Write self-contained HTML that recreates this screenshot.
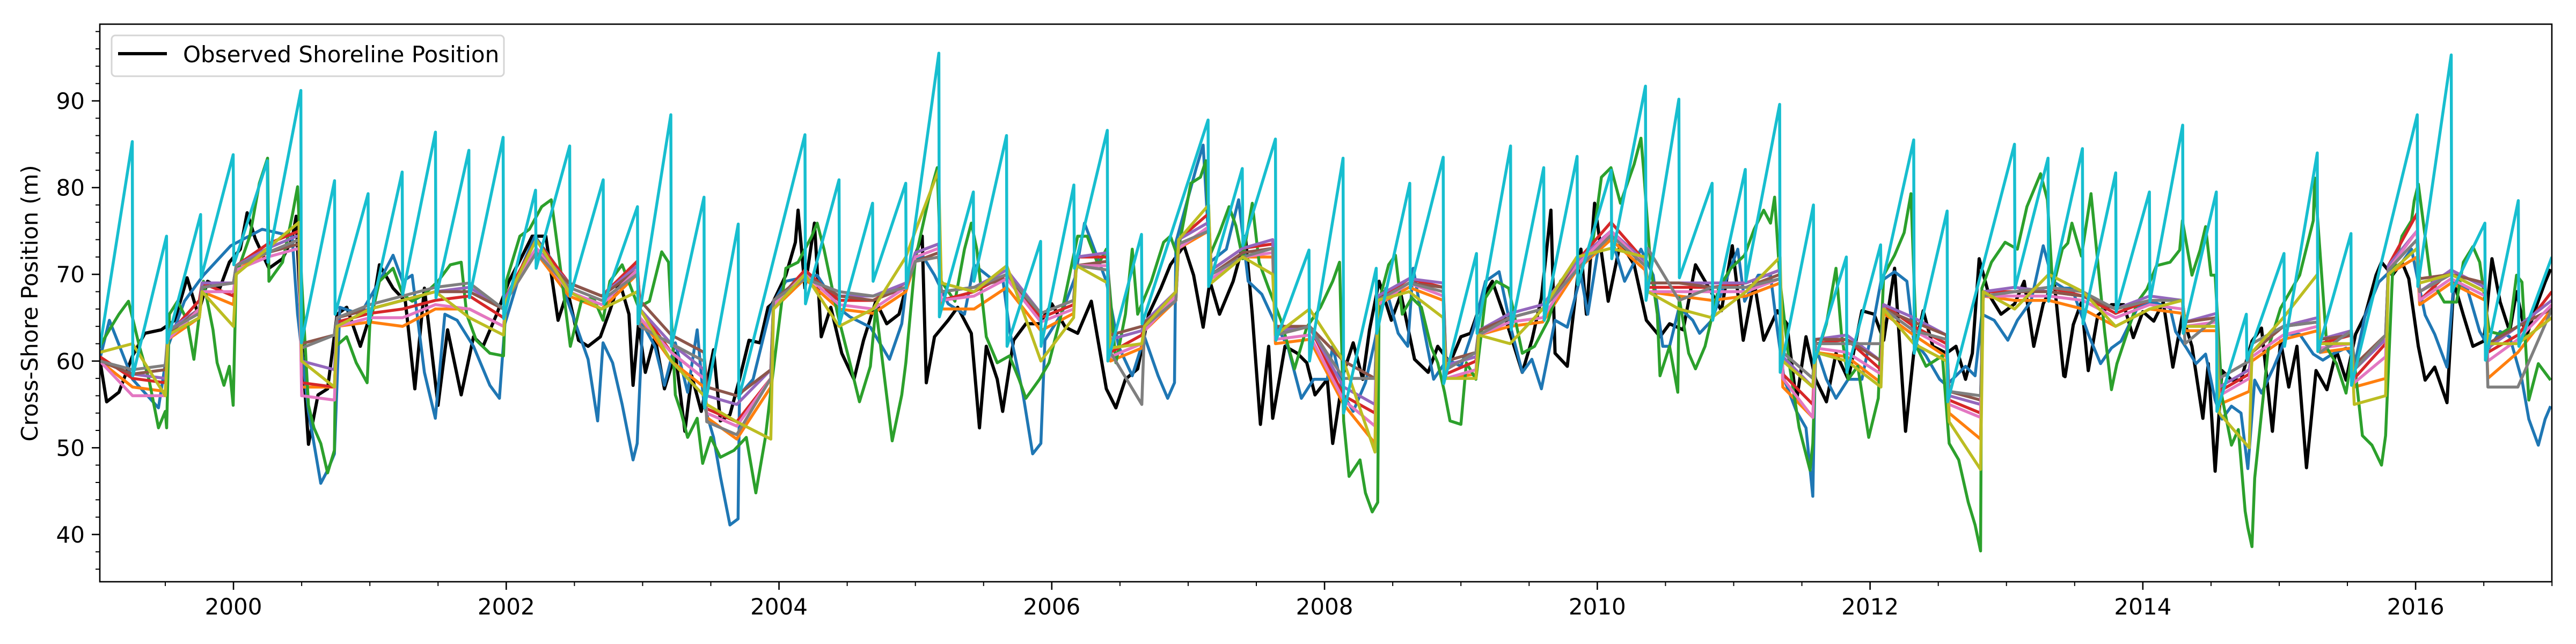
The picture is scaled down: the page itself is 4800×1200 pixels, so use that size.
<!DOCTYPE html>
<html><head><meta charset="utf-8"><title>Shoreline Position</title>
<style>
html,body{margin:0;padding:0;background:#fff;}
svg{display:block;font-family:"DejaVu Sans","Liberation Sans",sans-serif;}
</style></head>
<body>
<svg id="chart" width="4800" height="1200" viewBox="0 0 4800 1200" xmlns="http://www.w3.org/2000/svg">
<rect x="0" y="0" width="4800" height="1200" fill="#fff"/>
<defs><clipPath id="plotclip"><rect x="186" y="45" width="4569" height="1039"/></clipPath></defs>
<g id="series" clip-path="url(#plotclip)"></g>
<g id="axes"></g>
<text x="0" y="0" transform="translate(70,565) rotate(-90)" text-anchor="middle" font-size="42" fill="#000">Cross-Shore Position (m)</text>
<g>
<rect x="208" y="66" width="731" height="76" rx="7" fill="#fff" fill-opacity="0.8" stroke="#d5d5d5" stroke-width="3"/>
<line x1="220" y1="100" x2="311" y2="100" stroke="#000" stroke-width="6"/>
<text x="341" y="116" font-size="42" fill="#000">Observed Shoreline Position</text>
</g>
</svg>
<script>
// ---- axis domains ----
const xDomain = [1999.02, 2016.999];
const yDomain = [34.55, 98.85];
const yMajorTicks = [40, 50, 60, 70, 80, 90];
const xMajorTicks = [2000, 2002, 2004, 2006, 2008, 2010, 2012, 2014, 2016];
const xTickLabels = ["2000","2002","2004","2006","2008","2010","2012","2014","2016"];

// ---- observed (black) ----
const obsT = [1999.02,1999.07,1999.16,1999.26,1999.35,1999.47,1999.57,1999.66,1999.74,1999.81,1999.90,1999.97,2000.05,2000.10,2000.16,2000.26,2000.36,2000.43,2000.46,2000.50,2000.55,2000.62,2000.69,2000.76,2000.83,2000.93,2001.02,2001.07,2001.17,2001.26,2001.33,2001.40,2001.50,2001.57,2001.67,2001.76,2001.83,2001.93,2002.02,2002.12,2002.19,2002.29,2002.38,2002.45,2002.53,2002.60,2002.69,2002.76,2002.83,2002.90,2002.93,2002.97,2003.02,2003.09,2003.16,2003.24,2003.31,2003.36,2003.43,2003.52,2003.57,2003.64,2003.71,2003.78,2003.86,2003.92,2003.95,2004.05,2004.12,2004.14,2004.19,2004.26,2004.31,2004.38,2004.46,2004.55,2004.62,2004.71,2004.79,2004.88,2004.98,2005.05,2005.08,2005.14,2005.24,2005.31,2005.41,2005.47,2005.52,2005.60,2005.64,2005.72,2005.81,2005.91,2006.00,2006.10,2006.19,2006.29,2006.40,2006.47,2006.54,2006.63,2006.71,2006.80,2006.87,2006.97,2007.04,2007.11,2007.16,2007.23,2007.33,2007.42,2007.47,2007.53,2007.59,2007.62,2007.71,2007.80,2007.87,2007.93,2008.02,2008.06,2008.14,2008.21,2008.28,2008.33,2008.40,2008.49,2008.56,2008.66,2008.76,2008.83,2008.92,2009.00,2009.07,2009.16,2009.23,2009.33,2009.45,2009.52,2009.59,2009.66,2009.69,2009.78,2009.88,2009.92,2009.98,2010.08,2010.17,2010.27,2010.36,2010.46,2010.53,2010.63,2010.72,2010.82,2010.91,2010.99,2011.07,2011.15,2011.22,2011.32,2011.39,2011.46,2011.53,2011.60,2011.68,2011.75,2011.84,2011.94,2012.03,2012.10,2012.18,2012.26,2012.32,2012.39,2012.46,2012.56,2012.63,2012.70,2012.75,2012.80,2012.87,2012.96,2013.06,2013.13,2013.20,2013.27,2013.35,2013.42,2013.43,2013.49,2013.55,2013.60,2013.67,2013.77,2013.86,2013.93,2014.00,2014.08,2014.15,2014.22,2014.29,2014.36,2014.44,2014.48,2014.53,2014.58,2014.65,2014.72,2014.80,2014.87,2014.95,2015.01,2015.07,2015.13,2015.20,2015.27,2015.35,2015.42,2015.49,2015.56,2015.63,2015.71,2015.75,2015.83,2015.90,2015.95,2016.02,2016.07,2016.14,2016.23,2016.28,2016.35,2016.42,2016.50,2016.56,2016.62,2016.69,2016.74,2016.81,2016.88,2016.95,2016.99];
const obsV = [60.2,55.3,56.4,60.6,63.2,63.6,64.7,69.6,65.4,69.2,68.4,71.4,72.9,77.1,74.1,70.7,71.8,74.1,76.7,62.4,50.4,56.1,56.8,65.4,66.2,61.7,66.2,71.1,68.4,66.9,56.8,68.4,54.9,63.6,56.1,62.8,61.7,65.4,69.2,72.2,74.4,74.4,64.7,68.1,62.4,61.7,62.8,65.8,69.2,65.4,57.2,64.3,58.7,62.8,56.8,60.9,51.9,58.3,54.2,61.3,53.1,53.8,57.9,62.4,62.1,66.2,66.6,69.9,73.7,77.4,68.4,75.9,62.8,66.2,60.9,57.9,62.4,66.9,64.3,65.4,71.4,74.4,57.5,62.8,64.7,66.2,63.2,52.3,61.7,57.9,54.2,62.4,64.3,64.3,66.6,63.9,63.2,66.9,56.8,54.6,57.9,59.1,65.4,68.4,71.1,73.3,69.9,63.9,69.2,65.4,69.2,74.4,65.4,52.7,61.7,53.4,61.7,60.9,59.8,56.1,57.9,50.5,58.7,62.1,57.9,63.6,69.2,64.7,67.7,60.2,58.7,61.7,59.8,62.8,63.2,67.3,69.2,64.7,58.7,62.4,67.3,77.4,60.9,59.4,72.9,65.4,78.2,66.9,73.7,71.1,64.7,62.8,64.3,63.6,71.1,68.4,65.8,73.3,62.4,69.2,62.4,65.8,64.3,55.3,62.8,57.9,55.3,60.9,57.9,65.8,65.4,62.4,70.7,51.9,60.9,65.8,61.7,60.9,61.7,57.9,60.9,71.8,67.7,65.4,66.6,69.2,61.7,66.6,69.2,58.3,58.2,64.2,66.8,58.9,65.3,66.5,66.5,62.7,65.7,64.6,66.8,59.3,65.3,61.7,53.4,59.7,47.3,58.9,57.8,57.8,62.3,63.8,51.9,62.3,57.0,61.7,47.7,58.9,56.7,61.2,57.8,63.1,65.3,69.9,71.4,69.9,71.4,69.5,61.7,57.8,59.3,55.2,69.1,65.3,61.7,62.3,71.8,66.8,63.4,68.0,62.7,66.1,69.1,70.6];

// ---- blue ----
const blueT = [1999.02,1999.09,1999.26,1999.45,1999.52,1999.64,1999.78,1999.98,2000.21,2000.43,2000.47,2000.55,2000.64,2000.69,2000.74,2000.78,2000.93,2001.07,2001.17,2001.24,2001.31,2001.40,2001.48,2001.55,2001.64,2001.76,2001.88,2001.95,2001.99,2002.12,2002.21,2002.36,2002.45,2002.60,2002.67,2002.71,2002.78,2002.85,2002.93,2002.96,2003.00,2003.09,2003.16,2003.24,2003.33,2003.40,2003.45,2003.52,2003.57,2003.64,2003.70,2003.71,2003.81,2003.94,2004.05,2004.17,2004.28,2004.43,2004.52,2004.67,2004.81,2004.90,2004.95,2005.05,2005.14,2005.24,2005.36,2005.43,2005.55,2005.64,2005.69,2005.79,2005.86,2005.92,2005.95,2006.07,2006.17,2006.24,2006.40,2006.49,2006.59,2006.68,2006.78,2006.85,2006.90,2006.91,2007.06,2007.11,2007.16,2007.28,2007.37,2007.44,2007.54,2007.64,2007.73,2007.83,2007.92,2008.02,2008.06,2008.14,2008.21,2008.30,2008.37,2008.45,2008.54,2008.61,2008.65,2008.73,2008.80,2008.90,2009.00,2009.09,2009.18,2009.28,2009.37,2009.45,2009.52,2009.59,2009.69,2009.78,2009.88,2009.93,2010.01,2010.10,2010.20,2010.32,2010.41,2010.48,2010.53,2010.60,2010.70,2010.75,2010.84,2010.94,2011.03,2011.08,2011.18,2011.27,2011.32,2011.37,2011.46,2011.53,2011.58,2011.60,2011.68,2011.75,2011.84,2011.94,2012.01,2012.08,2012.18,2012.27,2012.32,2012.41,2012.51,2012.56,2012.63,2012.70,2012.77,2012.82,2012.91,2013.01,2013.08,2013.18,2013.27,2013.34,2013.42,2013.48,2013.55,2013.60,2013.69,2013.77,2013.84,2013.96,2014.08,2014.20,2014.24,2014.32,2014.39,2014.46,2014.53,2014.58,2014.65,2014.72,2014.77,2014.82,2014.87,2014.96,2015.06,2015.15,2015.25,2015.32,2015.39,2015.49,2015.56,2015.63,2015.73,2015.83,2015.90,2015.97,2016.03,2016.07,2016.14,2016.23,2016.28,2016.38,2016.47,2016.54,2016.62,2016.69,2016.78,2016.83,2016.90,2016.95,2016.99];
const blueV = [60.2,64.7,57.9,54.6,61.7,66.9,69.9,73.3,75.2,74.4,65.4,54.2,45.9,47.4,49.3,66.2,65.4,69.2,72.2,69.2,69.9,58.7,53.4,65.4,64.7,61.7,57.2,55.7,64.3,71.1,74.4,71.1,66.9,60.2,53.1,62.1,59.8,55.0,48.6,50.5,64.3,61.7,57.2,62.1,56.4,63.6,55.0,51.2,46.7,41.1,41.8,56.1,57.9,66.2,69.2,69.6,69.9,66.2,65.1,63.9,60.2,64.3,70.7,72.2,69.9,66.6,65.4,71.1,69.6,69.6,63.6,56.1,49.3,50.5,62.4,65.4,69.6,75.9,69.2,61.7,58.3,62.8,58.3,55.7,57.5,73.7,82.3,84.9,71.4,72.9,78.6,69.2,67.7,64.3,61.7,55.7,57.9,57.9,61.7,56.1,54.2,57.5,62.4,68.4,63.2,61.7,70.7,63.6,57.9,60.2,59.4,63.6,69.2,70.3,63.6,58.7,60.2,56.8,64.7,63.9,69.9,65.4,73.3,74.4,69.2,72.9,69.9,61.7,61.7,66.2,64.7,63.2,64.7,69.2,72.9,66.9,69.9,69.9,63.6,57.9,54.2,52.3,44.4,61.7,57.9,55.7,57.9,57.9,63.2,69.2,70.3,69.2,62.4,60.6,57.9,57.2,58.3,59.4,58.3,65.4,64.7,62.4,64.7,66.9,73.3,69.2,68.4,68.4,65.3,63.1,59.7,61.5,62.3,66.1,66.8,66.1,63.4,61.5,59.7,60.8,55.5,53.3,54.8,54.0,47.6,57.8,56.3,59.3,63.1,63.1,60.8,60.1,60.8,61.5,60.1,65.3,69.1,70.6,71.4,72.9,68.3,65.3,63.1,59.3,69.1,68.3,63.4,61.5,63.4,62.8,57.8,53.3,50.3,53.3,54.8];

// ---- green ----
const greenT = [1999.02,1999.09,1999.16,1999.23,1999.31,1999.38,1999.45,1999.50,1999.51,1999.53,1999.59,1999.66,1999.71,1999.78,1999.85,1999.88,1999.93,1999.97,1999.998,2000.02,2000.12,2000.19,2000.25,2000.26,2000.36,2000.43,2000.47,2000.50,2000.55,2000.59,2000.64,2000.69,2000.74,2000.75,2000.83,2000.90,2000.98,2001.00,2001.07,2001.17,2001.24,2001.31,2001.40,2001.50,2001.59,2001.67,2001.71,2001.78,2001.88,2001.98,2002.00,2002.10,2002.17,2002.26,2002.33,2002.41,2002.47,2002.55,2002.64,2002.71,2002.76,2002.85,2002.97,2003.05,2003.14,2003.19,2003.24,2003.28,2003.33,2003.40,2003.44,2003.50,2003.57,2003.67,2003.76,2003.83,2003.90,2003.95,2004.05,2004.14,2004.24,2004.28,2004.33,2004.43,2004.52,2004.59,2004.67,2004.71,2004.76,2004.83,2004.90,2004.93,2005.00,2005.10,2005.16,2005.19,2005.29,2005.36,2005.41,2005.45,2005.52,2005.60,2005.69,2005.76,2005.81,2005.91,2005.98,2006.07,2006.19,2006.26,2006.34,2006.40,2006.47,2006.54,2006.59,2006.63,2006.73,2006.82,2006.87,2006.92,2007.02,2007.09,2007.13,2007.16,2007.23,2007.30,2007.35,2007.40,2007.47,2007.52,2007.59,2007.68,2007.78,2007.87,2007.97,2008.06,2008.11,2008.14,2008.18,2008.26,2008.30,2008.35,2008.39,2008.40,2008.47,2008.52,2008.57,2008.64,2008.71,2008.78,2008.83,2008.88,2008.92,2009.00,2009.04,2009.11,2009.18,2009.26,2009.35,2009.45,2009.54,2009.64,2009.73,2009.83,2009.96,2010.03,2010.10,2010.17,2010.27,2010.32,2010.34,2010.39,2010.44,2010.46,2010.53,2010.59,2010.60,2010.67,2010.72,2010.79,2010.89,2010.98,2011.08,2011.15,2011.22,2011.27,2011.30,2011.34,2011.41,2011.48,2011.56,2011.58,2011.60,2011.68,2011.75,2011.79,2011.84,2011.91,2011.99,2012.06,2012.10,2012.18,2012.25,2012.30,2012.34,2012.41,2012.53,2012.58,2012.65,2012.72,2012.77,2012.81,2012.82,2012.89,2012.99,2013.08,2013.15,2013.25,2013.30,2013.34,2013.41,2013.45,2013.48,2013.55,2013.62,2013.72,2013.77,2013.81,2013.96,2014.03,2014.10,2014.20,2014.27,2014.29,2014.36,2014.42,2014.46,2014.50,2014.53,2014.58,2014.65,2014.70,2014.75,2014.77,2014.80,2014.82,2014.92,2015.01,2015.15,2015.25,2015.26,2015.35,2015.42,2015.49,2015.54,2015.61,2015.68,2015.75,2015.78,2015.83,2015.90,2015.97,2015.99,2016.02,2016.11,2016.21,2016.30,2016.35,2016.42,2016.47,2016.54,2016.62,2016.69,2016.74,2016.78,2016.83,2016.90,2016.99];
const greenV = [61.7,63.6,65.4,66.9,61.7,57.9,52.3,54.2,52.3,65.4,66.9,64.7,60.2,69.2,63.6,59.8,57.2,59.4,54.9,69.9,74.4,80.5,83.4,69.2,71.4,76.7,80.1,69.2,54.9,52.3,50.5,47.1,49.7,61.7,62.8,59.8,57.5,64.3,69.2,70.7,67.7,66.9,67.7,69.2,71.1,71.4,65.4,62.4,60.9,60.6,69.2,74.4,75.2,77.8,78.6,69.2,61.7,66.9,67.3,64.7,69.2,71.1,66.2,66.9,72.6,71.4,56.1,54.2,51.2,53.4,48.2,51.2,48.9,49.7,51.2,44.8,51.2,57.9,70.7,71.4,74.4,75.9,72.9,65.4,59.8,55.3,59.4,66.2,59.8,50.8,56.1,59.8,71.8,78.9,82.3,69.2,66.9,72.9,75.9,72.9,62.8,59.8,60.6,57.9,55.7,57.9,59.8,65.4,74.4,74.4,71.1,72.9,59.8,65.4,72.9,65.4,69.2,73.7,74.4,72.2,80.5,81.2,83.1,72.2,74.8,77.8,75.6,71.8,78.2,71.4,68.4,64.7,59.1,63.9,66.2,69.2,71.4,53.1,46.7,48.6,44.8,42.6,43.7,66.9,71.1,72.2,65.4,67.3,66.2,61.7,59.8,56.4,53.1,52.7,59.8,57.9,67.3,69.2,68.4,60.9,61.7,64.7,69.2,71.1,72.9,81.2,82.3,78.2,82.7,85.7,82.0,71.1,65.4,58.3,61.7,56.4,67.3,60.9,59.1,61.7,68.4,70.7,72.2,75.2,77.4,75.9,78.9,69.2,59.4,52.3,47.4,50.5,60.2,64.3,70.7,63.2,57.9,59.4,51.2,55.7,69.9,72.2,74.8,79.3,61.7,59.4,60.6,50.5,48.6,43.7,41.1,38.1,68.4,71.4,73.7,72.9,77.8,81.6,78.6,68.4,72.9,73.6,75.9,72.1,79.3,63.4,56.7,59.7,66.8,68.3,71.0,71.4,72.8,76.2,69.9,72.8,75.5,69.9,69.9,55.9,50.3,52.1,42.7,40.8,38.6,46.5,61.5,66.1,69.9,76.2,81.1,61.5,59.7,56.3,61.5,51.4,50.3,48.0,51.4,69.9,74.4,76.2,78.5,80.4,69.5,66.8,66.8,71.4,73.2,71.4,63.4,63.1,63.8,69.9,69.1,55.5,59.7,57.8,61.5];

// ---- cyan sawtooth ----
const cyanT = [1999.02,1999.258,1999.262,1999.509,1999.513,1999.759,1999.763,1999.998,2000.002,2000.248,2000.252,2000.494,2000.498,2000.741,2000.745,2000.987,2000.991,2001.237,2001.241,2001.481,2001.485,2001.726,2001.730,2001.977,2001.981,2002.215,2002.219,2002.465,2002.469,2002.711,2002.715,2002.962,2002.966,2003.207,2003.211,2003.450,2003.454,2003.701,2003.705,2004.190,2004.194,2004.440,2004.444,2004.686,2004.690,2004.929,2004.933,2005.172,2005.176,2005.425,2005.429,2005.668,2005.672,2005.918,2005.922,2006.162,2006.166,2006.407,2006.411,2006.658,2006.662,2007.146,2007.150,2007.397,2007.401,2007.640,2007.644,2007.886,2007.890,2008.136,2008.140,2008.379,2008.383,2008.625,2008.629,2008.870,2008.874,2009.114,2009.118,2009.364,2009.368,2009.607,2009.611,2009.852,2009.856,2010.102,2010.106,2010.353,2010.357,2010.598,2010.602,2010.842,2010.846,2011.085,2011.089,2011.337,2011.341,2011.585,2011.589,2011.826,2011.830,2012.077,2012.081,2012.320,2012.324,2012.565,2012.569,2013.059,2013.063,2013.305,2013.309,2013.557,2013.561,2013.801,2013.805,2014.048,2014.052,2014.292,2014.296,2014.539,2014.543,2014.759,2014.763,2015.035,2015.039,2015.279,2015.283,2015.526,2015.530,2016.012,2016.016,2016.261,2016.265,2016.508,2016.512,2016.753,2016.757,2016.999];
const cyanV = [61.5,85.3,58.3,74.4,62.1,76.9,69.6,83.8,71.1,83.1,71.4,91.2,62.1,80.8,65.4,79.3,64.3,81.8,67.7,86.4,67.3,84.3,67.3,85.8,64.9,79.7,70.7,84.8,67.5,80.9,66.6,77.8,64.3,88.4,61.7,78.9,54.6,75.8,55.7,86.1,66.6,80.9,64.3,78.2,69.2,80.5,68.4,95.5,65.1,79.5,69.2,86.0,61.7,73.8,61.7,80.3,70.7,86.6,60.0,74.6,64.3,87.8,68.6,82.2,73.3,85.6,62.4,72.8,60.0,83.4,54.0,70.7,63.2,80.5,68.4,83.5,57.4,72.4,63.2,84.8,63.6,82.3,64.7,83.6,68.8,82.0,71.8,91.7,67.0,90.2,69.6,80.5,64.7,82.1,69.2,89.6,58.7,78.0,59.8,72.0,58.7,73.4,68.4,85.5,60.9,77.3,55.3,85.0,68.4,83.4,66.9,84.5,64.3,81.7,65.7,79.5,66.9,87.2,63.2,79.5,54.2,65.4,60.1,72.4,61.7,84.0,61.1,74.7,57.2,88.4,68.6,95.3,68.0,75.9,60.1,78.5,61.7,72.0];

// ---- ensemble cluster (shared time categories) ----
const clusterT = [1999.02,1999.26,1999.50,1999.52,1999.75,1999.77,2000.00,2000.02,2000.25,2000.48,2000.50,2000.74,2000.76,2001.00,2001.24,2001.48,2001.73,2001.98,2002.00,2002.22,2002.46,2002.70,2002.96,2002.98,2003.21,2003.45,2003.47,2003.69,2003.94,2003.96,2004.19,2004.44,2004.69,2004.93,2005.00,2005.17,2005.19,2005.43,2005.67,2005.92,2006.16,2006.18,2006.41,2006.43,2006.66,2006.68,2006.91,2006.93,2007.15,2007.17,2007.40,2007.62,2007.64,2007.89,2008.14,2008.37,2008.39,2008.62,2008.87,2008.89,2009.11,2009.13,2009.36,2009.60,2009.85,2010.10,2010.35,2010.37,2010.60,2010.84,2011.09,2011.34,2011.36,2011.58,2011.60,2011.83,2012.08,2012.10,2012.32,2012.56,2012.58,2012.81,2012.83,2013.06,2013.31,2013.56,2013.80,2014.05,2014.29,2014.31,2014.54,2014.56,2014.78,2014.80,2015.03,2015.28,2015.30,2015.53,2015.55,2015.78,2015.80,2016.01,2016.03,2016.26,2016.51,2016.53,2016.75,2016.999];
const orangeV = [60,57,56.5,62.5,65,68,66.5,70.5,72.5,74,57,57,64,64.5,64,66,66,64,67,72.5,67.5,66,70,65,60,57,53.5,51,57,66,69.5,66,65.5,68,71.5,72,66,66,68.5,63.5,65.5,71,70.5,60,61.5,63.5,67,73,75,69.5,72,72,62,62.5,55,50.5,66.5,68.5,67,58,58.5,63,64,64.5,70.5,74,70.5,68,67.5,67,67.5,69,57,53.5,61,60.5,57.5,65.5,63,60.5,54,51,67.5,67,67,66,64,66,65.5,63.5,63.5,55,56.5,60,62.5,63.5,61,61.5,57,58,70,72,66.5,69,67,58,61,66];
const redV = [60.5,58,57.5,63,67,69,67.5,71,73.5,75,57.5,57,64.5,65.5,66,67,67.5,65,67.5,74,69,67.5,71.5,66,61,58,54.5,53,58,66.5,70.5,67,67,69,72.5,73.5,67,68,70,65,66.5,72,72,61,63,64,68,74,77,70.5,73,73.5,63,64,56,54,67,69.5,68.5,58.5,60,63.5,65,66,71.5,76,71.5,68.5,68.5,68.5,69,70.5,58.5,55,62,62.5,59,66.5,64,62,55.5,54,68,68,68.5,67.5,65.5,67,67,64.5,65,56.5,58.5,61,64,65,62,63,58,62,71,77,67,70.5,68.5,61,63,68];
const purpleV = [60,58.5,58,63.5,66,69,69,71,73,74.5,60,59,65,66,67,68,68.5,66,67.5,73,69,67.5,71,66,62,59,56,55,59,67,70,67.5,67.5,69,72.5,73.5,68,68.5,70.5,65.5,67,72,72.5,62.5,63.5,64.5,68,74,76,70.5,73,74,63.5,64,57,55,67.5,69.5,69,59.5,60.5,63.5,65.5,66.5,71.5,75,71.5,69,69,69,69,70.5,60.5,57,62.5,63,60,66.5,65,63,56,55,68,68.5,68,67.5,66,67.5,67,64.5,65.5,57,59,61,64,65,62.5,63.5,59,62.5,71,75,68,70.5,68.5,61.5,64,67];
const brownV = [60,58.5,59,63,66,68.5,69,71,72.5,73.5,62,63,65,66,67,68,68,66,67,72.5,69,67.5,70.5,67,63,61,57,56,59,67,70,67.5,67,68.5,71.5,72.5,68,68.5,69.5,65.5,67,71,71.5,63,64,64.5,67,73.5,75,70,72.5,73,64,64,60,58,67,69,68.5,60,61,63.5,65,66,71,74.5,71,69,69,68.5,68.5,70,61,58,62.5,62.5,60,66,64.5,63,56.5,55.5,67.5,68,68,67.5,66,67,67,64.5,65,58,60,61,64,64.5,62.5,63,59.5,63,70.5,74,69.5,70,69,62,64,66];
const pinkV = [60,56,56,62.5,66,68,68,70.5,72,73,56,55.5,64,65,65,66.5,66,64,67,73,68,66.5,70.5,65,61,58,54,52.5,58,66.5,70,66.5,66,68.5,72,73,67,67.5,69.5,64.5,66,71,71,60.5,62,63.5,67.5,73,75.5,69.5,72,72.5,62.5,63,55.5,52.5,66.5,69,67.5,58,59,63,64.5,65,71,75,71,68,68,68,68,69.5,58,53.5,61.5,61,58.5,66,63.5,61.5,55,53.5,67.5,67.5,67.5,67,65,66.5,66,64,64.5,56,58,60.5,63,64,61.5,62,57.5,60.5,70.5,75,67,69.5,67.5,60,62.5,66.5];
const grayV = [60,59,59.5,63.5,65.5,68.5,69,71,72.5,74,61.5,63,65,66.5,67.5,68.5,69,66,67,72.5,68.5,67,70,64,62,60,53,51.5,58,67,69.5,68,67.5,68.5,71.5,72,68,68.5,70,65.5,67,71,70.5,61,55,64,67,73.5,75,70,72,73,63,64,58,58,67,69,68,59,61,63,65,66,70.5,74.5,71,73,67,68.5,68.5,69.5,61,58,62,62,62,66,63.5,62.5,56.5,56,67.5,68,68.5,68,66,67,67,62,65,58,60,62,64,64.5,61,63.5,59,63,70.5,74,68,70,68,57,57,66];
const oliveV = [61,62,56,63,65,68,64,70,73,76,60,57,64,66,67,68,65,63,67,74,68,66,68,66,60,56,55,53,51,66,70,64,66,72,75,82,69,68,71,60,65,71,69,61.5,62,64,68,74,78,69,72,70,63,66,60,49.5,67,68,65,58,58,63,62,66,72,73,72,68,66,65,68,72,60,57,61,60,57,66,62,60,53,47.5,68,66,70,68,64,66,67,64,64,54,50,61,65,70,62,62,55,56,70,73,69,70,68,62,62,65];

// ---- scales ----
const plot = {left:186, right:4755, top:45, bottom:1084};
function xScale(t){ return plot.left + (t - xDomain[0]) / (xDomain[1] - xDomain[0]) * (plot.right - plot.left); }
function yScale(v){ return plot.bottom - (v - yDomain[0]) / (yDomain[1] - yDomain[0]) * (plot.bottom - plot.top); }

const NS = "http://www.w3.org/2000/svg";
const seriesLayer = document.getElementById('series');
const axesLayer = document.getElementById('axes');

function drawLine(ts, vs, color, width, name){
  let d = "";
  for (let i = 0; i < ts.length; i++){
    d += (i ? "L" : "M") + xScale(ts[i]).toFixed(1) + " " + yScale(vs[i]).toFixed(1);
  }
  const p = document.createElementNS(NS, 'path');
  p.setAttribute('d', d);
  p.setAttribute('fill', 'none');
  p.setAttribute('stroke', color);
  p.setAttribute('stroke-width', width);
  p.setAttribute('stroke-linejoin', 'round');
  p.setAttribute('stroke-linecap', 'butt');
  
  
  seriesLayer.appendChild(p);
}

drawLine(obsT, obsV, '#000000', 6, 'observed-line');
drawLine(blueT, blueV, '#1f77b4', 5.5, 'model-blue-line');
drawLine(clusterT, orangeV, '#ff7f0e', 5.5, 'model-orange-line');
drawLine(greenT, greenV, '#2ca02c', 5.5, 'model-green-line');
drawLine(clusterT, redV, '#d62728', 5.5, 'model-red-line');
drawLine(clusterT, purpleV, '#9467bd', 5.5, 'model-purple-line');
drawLine(clusterT, brownV, '#8c564b', 5.5, 'model-brown-line');
drawLine(clusterT, pinkV, '#e377c2', 5.5, 'model-pink-line');
drawLine(clusterT, grayV, '#7f7f7f', 5.5, 'model-gray-line');
drawLine(clusterT, oliveV, '#bcbd22', 5.5, 'model-olive-line');
drawLine(cyanT, cyanV, '#17becf', 5.5, 'model-cyan-line');

function mk(tag, attrs){
  const e = document.createElementNS(NS, tag);
  for (const k in attrs) e.setAttribute(k, attrs[k]);
  axesLayer.appendChild(e);
  return e;
}

// frame
const frame = mk('rect', {x:plot.left, y:plot.top, width:plot.right-plot.left, height:plot.bottom-plot.top, fill:'none', stroke:'#000', 'stroke-width':2.6});



// y ticks
for (let v = 36; v <= 98; v += 2){
  const major = yMajorTicks.indexOf(v) >= 0;
  const y = yScale(v);
  const tk = mk('line', {x1:plot.left - (major ? 15 : 8), x2:plot.left, y1:y, y2:y, stroke:'#000', 'stroke-width': major ? 2.6 : 2});
  
  
}
yMajorTicks.forEach(function(v){
  const t = mk('text', {x:plot.left - 28, y:yScale(v) + 15, 'text-anchor':'end', 'font-size':42, fill:'#000'});
  t.textContent = String(v);
  
  
});

// x ticks
for (let t = 1999.5; t <= 2017.001; t += 0.5){
  const major = xMajorTicks.indexOf(t) >= 0;
  const x = xScale(t);
  const tk = mk('line', {x1:x, x2:x, y1:plot.bottom, y2:plot.bottom + (major ? 15 : 8), stroke:'#000', 'stroke-width': major ? 2.6 : 2});
  
  
}
xMajorTicks.forEach(function(t, i){
  const lb = mk('text', {x:xScale(t), y:1145, 'text-anchor':'middle', 'font-size':42, fill:'#000'});
  lb.textContent = xTickLabels[i];
  
  
});
</script>
</body></html>
